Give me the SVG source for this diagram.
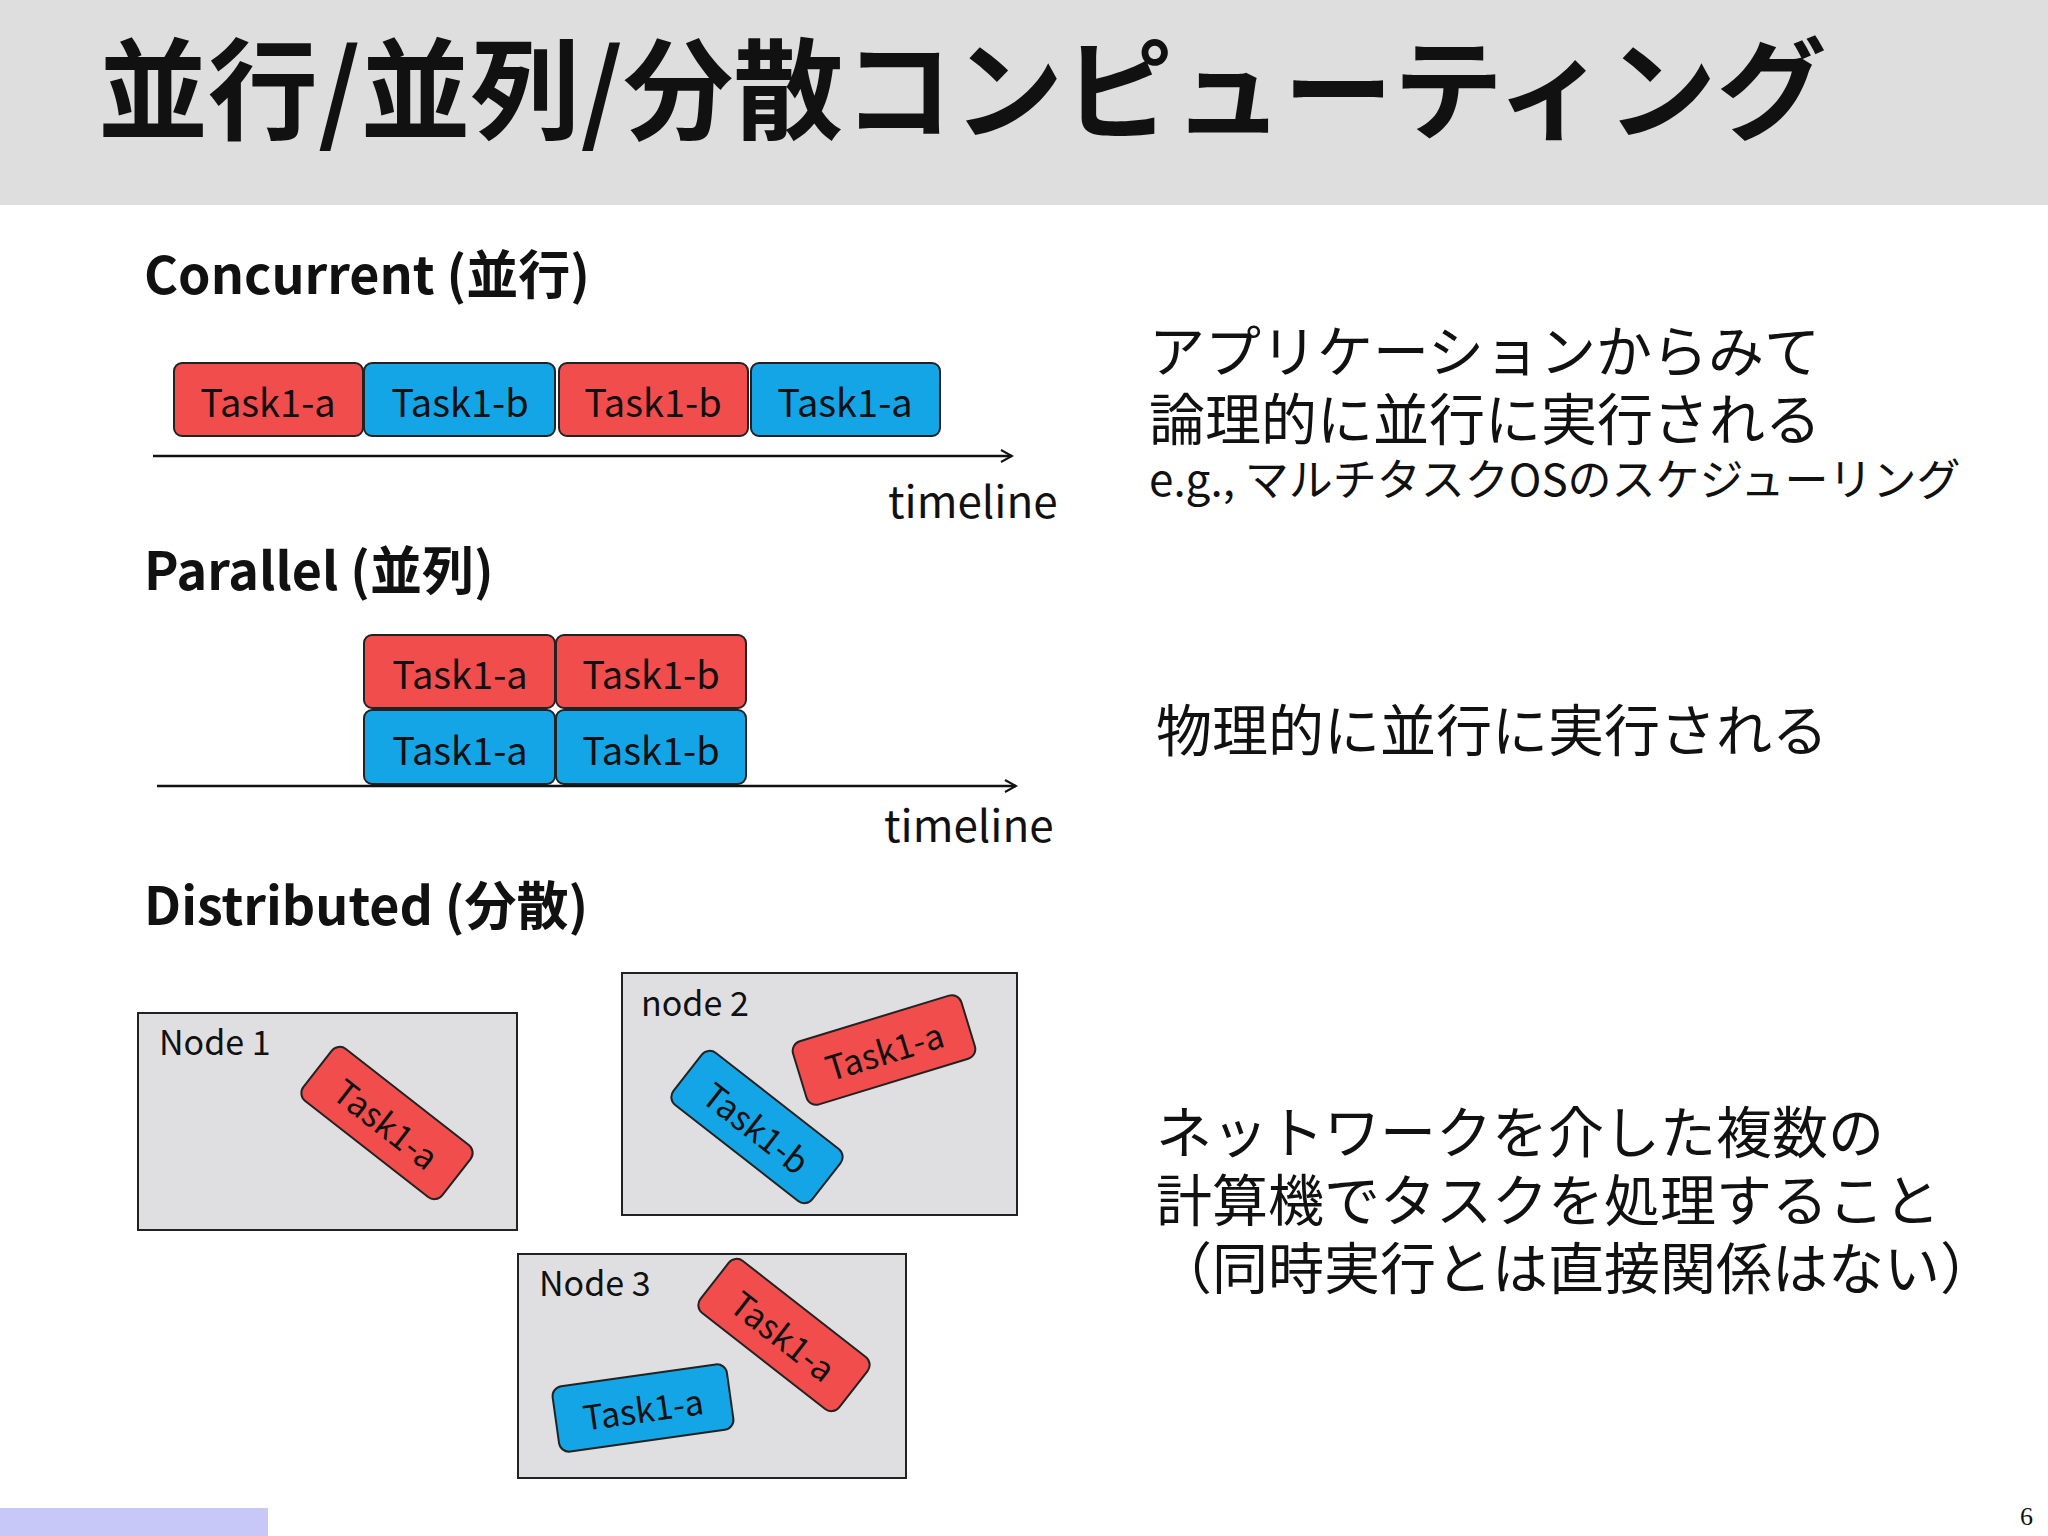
<svg xmlns="http://www.w3.org/2000/svg" width="2048" height="1536" viewBox="0 0 2048 1536">
<defs>
<style>
text{font-family:"Noto Sans CJK JP","Noto Sans",sans-serif;fill:#111}
.h{font-weight:bold;font-size:52px}
.t{font-size:38px;text-anchor:middle;dominant-baseline:central}
.s{font-size:34px;text-anchor:middle;dominant-baseline:central}
.r{fill:#f24d4d;stroke:#222;stroke-width:2}
.b{fill:#14a5e6;stroke:#222;stroke-width:2}
.n{fill:#dfdfe1;stroke:#222;stroke-width:2}
.j{font-size:56px}
.tl{font-size:44px}
.ln{stroke:#111;stroke-width:2.5;fill:none}
</style>
<marker id="a" markerWidth="14" markerHeight="14" refX="12" refY="7" orient="auto" markerUnits="userSpaceOnUse"><path d="M1 1L12 7L1 13" fill="none" stroke="#111" stroke-width="2"/></marker>
</defs>
<rect width="2048" height="1536" fill="#fff"/>
<rect width="2048" height="205" fill="#dedede"/>
<text x="98" y="131" style="font-weight:bold;font-size:110px">並行/並列/分散コンピューティング</text>
<text class="h" x="144" y="294">Concurrent (並行)</text>
<text class="h" x="144" y="590">Parallel (並列)</text>
<text class="h" x="144" y="925">Distributed (分散)</text>

<g id="concurrent">
<rect class="r" x="174" y="363" width="189" height="73" rx="8"/><text class="t" x="268" y="400">Task1-a</text>
<rect class="b" x="364" y="363" width="191" height="73" rx="8"/><text class="t" x="460" y="400">Task1-b</text>
<rect class="r" x="559" y="363" width="189" height="73" rx="8"/><text class="t" x="653" y="400">Task1-b</text>
<rect class="b" x="751" y="363" width="189" height="73" rx="8"/><text class="t" x="845" y="400">Task1-a</text>
<text class="tl" x="888" y="518">timeline</text>
</g>
<g id="parallel">
<rect class="r" x="364" y="635" width="191" height="73" rx="8"/><text class="t" x="460" y="672">Task1-a</text>
<rect class="r" x="556" y="635" width="190" height="73" rx="8"/><text class="t" x="651" y="672">Task1-b</text>
<rect class="b" x="364" y="710" width="191" height="74" rx="8"/><text class="t" x="460" y="748">Task1-a</text>
<rect class="b" x="556" y="710" width="190" height="74" rx="8"/><text class="t" x="651" y="748">Task1-b</text>
<text class="tl" x="884" y="842">timeline</text>
</g>
<g id="connectors">
<line class="ln" x1="153" y1="456" x2="1012" y2="456" marker-end="url(#a)"/>
<line class="ln" x1="157" y1="786" x2="1016" y2="786" marker-end="url(#a)"/>
</g>
<g id="node1">
<rect class="n" x="138" y="1013" width="379" height="217"/>
<text x="159" y="1055" style="font-size:34px">Node 1</text>
<g transform="translate(387,1123) rotate(38)"><rect class="r" x="-88" y="-33" width="176" height="66" rx="10"/><text class="s" x="0" y="0">Task1-a</text></g>
</g>
<g id="node2">
<rect class="n" x="622" y="973" width="395" height="242"/>
<text x="641" y="1016" style="font-size:34px">node 2</text>
<g transform="translate(884,1050) rotate(-17)"><rect class="r" x="-88" y="-33" width="176" height="66" rx="10"/><text class="s" x="0" y="0">Task1-a</text></g>
<g transform="translate(757,1127) rotate(38)"><rect class="b" x="-88" y="-33" width="176" height="66" rx="10"/><text class="s" x="0" y="0">Task1-b</text></g>
</g>
<g id="node3">
<rect class="n" x="518" y="1254" width="388" height="224"/>
<text x="539" y="1296" style="font-size:34px">Node 3</text>
<g transform="translate(784,1335) rotate(38)"><rect class="r" x="-88" y="-33" width="176" height="66" rx="10"/><text class="s" x="0" y="0">Task1-a</text></g>
<g transform="translate(643,1408) rotate(-8)"><rect class="b" x="-88" y="-33" width="176" height="66" rx="10"/><text class="s" x="0" y="0">Task1-a</text></g>
</g>
<text class="j" x="1149" y="372">アプリケーションからみて</text>
<text class="j" x="1149" y="440">論理的に並行に実行される</text>
<text x="1149" y="496" style="font-size:44px">e.g., マルチタスクOSのスケジューリング</text>
<text class="j" x="1156" y="751">物理的に並行に実行される</text>
<text class="j" x="1156" y="1153">ネットワークを介した複数の</text>
<text class="j" x="1156" y="1221">計算機でタスクを処理すること</text>
<text class="j" x="1156" y="1289">（同時実行とは直接関係はない）</text>
<rect x="0" y="1508" width="268" height="28" fill="#c8c8f8"/>
<text x="2020" y="1525" style="font-family:'Liberation Serif',serif;font-size:26px">6</text>
</svg>
